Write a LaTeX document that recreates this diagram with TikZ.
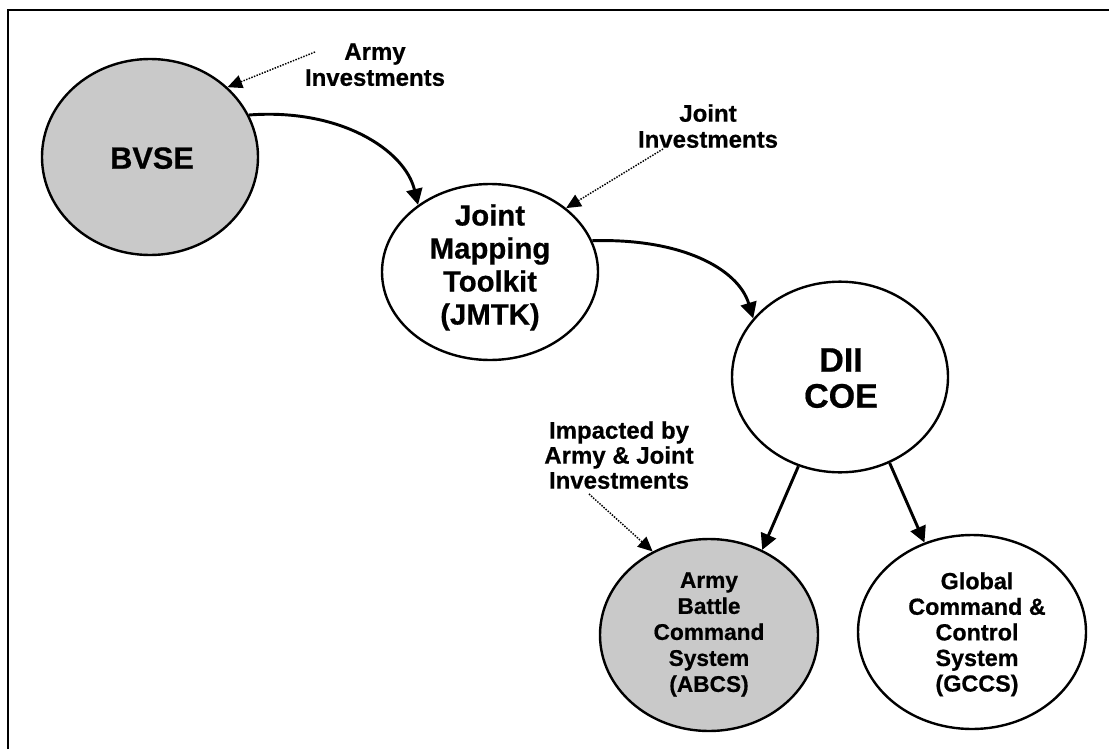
\documentclass[tikz,border=0pt]{standalone}
\usepackage{fontspec}
\setmainfont{Liberation Sans}[BoldFeatures={FakeBold=0.6}]
\usetikzlibrary{shapes.geometric,arrows.meta}
\begin{document}
\begin{tikzpicture}[x=0.75pt,y=-0.75pt,
  bubble/.style={ellipse,draw=black,line width=1.8pt,inner sep=0pt},
  shaded/.style={bubble,fill=black!21},
  plain/.style={bubble,fill=white},
  txt/.style={anchor=north,align=center,inner sep=0pt},
  flow/.style={line width=2.2pt,-{Triangle[length=12pt,width=12pt]}},
  feed/.style={line width=1.1pt,densely dotted,-{Triangle[length=11pt,width=10pt]}}
]
\useasboundingbox (0,0) rectangle (1109,749);
\draw[line width=1.6pt] (8,749) -- (8,10) -- (1109,10);

% bubbles
\node[shaded, minimum width=162pt, minimum height=147pt] (bvse) at (150,157) {};
\node[plain, minimum width=162pt, minimum height=132pt] (jmtk) at (490,272) {};
\node[plain, minimum width=162pt, minimum height=143pt] (dii) at (840,377) {};
\node[shaded, minimum width=163.5pt, minimum height=144pt] (abcs) at (709,635) {};
\node[plain, minimum width=171pt, minimum height=145.5pt] (gccs) at (972,632) {};

% bubble texts
\node[txt, font=\bfseries\fontsize{23}{26}\selectfont] (bvset) at (152,147) {BVSE};
\node[txt, font=\bfseries\fontsize{22}{24.75}\selectfont] (jmtkt) at (490,204) {Joint\\Mapping\\Toolkit\\(JMTK)};
\node[txt, font=\bfseries\fontsize{25.5}{27}\selectfont] (diit) at (841,348) {DII\\COE};
\node[txt, font=\bfseries\fontsize{17}{19.5}\selectfont] (abcst) at (709,572) {Army\\Battle\\Command\\System\\(ABCS)};
\node[txt, font=\bfseries\fontsize{17.5}{19.2}\selectfont] (gccst) at (977,572) {Global\\Command \&\\Control\\System\\(GCCS)};

% investment labels
\node[txt, font=\bfseries\fontsize{18}{19.5}\selectfont] (armyinv) at (375,43) {Army\\Investments};
\node[txt, font=\bfseries\fontsize{18}{19.5}\selectfont] (jointinv) at (708,104) {Joint\\Investments};
\node[txt, font=\bfseries\fontsize{18}{18.75}\selectfont] (impact) at (619,421) {Impacted by\\Army \& Joint\\Investments};

\coordinate (armyfrom) at (315,52);
\coordinate (jointfrom) at (663,149);
\coordinate (impactfrom) at (589,494);

% main flow
\draw[flow] (bvse.23) .. controls (340,108) and (405,150) .. (jmtk.137);
\draw[flow] (jmtk.17) .. controls (680,238) and (738,268) .. (dii.146);
\draw[flow] (dii.245) -- (abcs.58);
\draw[flow] (dii.300) -- (gccs.118);

% investment feeds
\draw[feed] (armyfrom) -- (bvse.42);
\draw[feed] (jointfrom) -- (jmtk.40);
\draw[feed] (impactfrom) -- (abcs.124);
\end{tikzpicture}
\end{document}
